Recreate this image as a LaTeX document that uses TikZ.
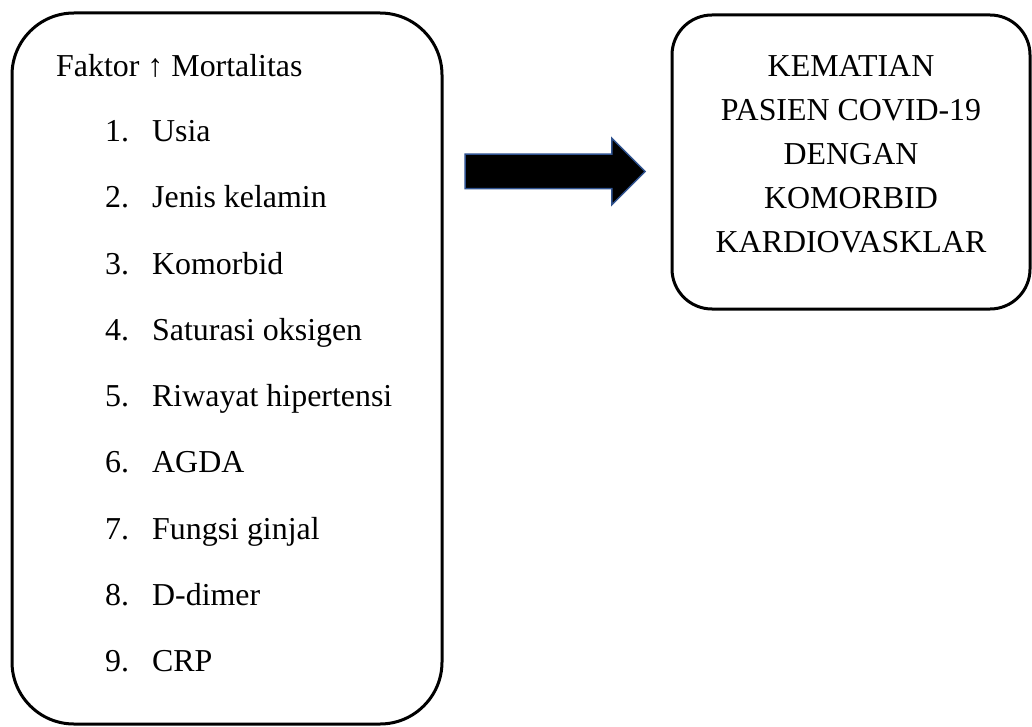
\documentclass[tikz,border=0pt]{standalone}
\usepackage{fontspec}
\setmainfont{Liberation Serif}
\usetikzlibrary{shapes}
\usetikzlibrary{shapes.arrows}
\definecolor{arrowblue}{RGB}{47,82,143}
\tikzset{
	textnode/.style = {
		inner sep=0pt,
		font=\fontsize{31.9}{43.8}\selectfont,
		anchor=base west
	},
	node_box/.style = {
		rectangle,
		draw=black,
		line width=3pt,
		inner sep=0pt
	},
	node_item/.style = {
		textnode
	},
	node_title/.style = {
		textnode,
		align=center,
		anchor=base
	},
	node_arrow/.style = {
		single arrow,
		draw=arrowblue,
		fill=black,
		line width=1.5pt,
		inner xsep=0pt,
		inner ysep=16.5pt,
		minimum height=180pt,
		single arrow head extend=16pt,
		single arrow head indent=0pt
	},
}
\newcommand{\itemno}[1]{\makebox[47pt][l]{#1}}

\begin{document}
\begin{tikzpicture}[x=1pt,y=-1pt]
\useasboundingbox (0,0) rectangle (1032,727);
% boxes
\node [node_box, rounded corners=62pt, minimum width=430pt, minimum height=711pt] (box_faktor) at (227,368.5) {};
\node [node_box, rounded corners=40pt, minimum width=358pt, minimum height=294pt] (box_kematian) at (851,162) {};
\node [node_arrow] (arrow_fk) at (546.5,171.5) {};
% left list
\node [textnode] (faktor) at (56,76.7) {Faktor ↑ Mortalitas};
\node [node_item] (item1) at (105,141.7) {\itemno{1.}Usia};
\node [node_item] (item2) at (105,207.95) {\itemno{2.}Jenis kelamin};
\node [node_item] (item3) at (105,274.2) {\itemno{3.}Komorbid};
\node [node_item] (item4) at (105,340.45) {\itemno{4.}Saturasi oksigen};
\node [node_item] (item5) at (105,406.7) {\itemno{5.}Riwayat hipertensi};
\node [node_item] (item6) at (105,472.95) {\itemno{6.}AGDA};
\node [node_item] (item7) at (105,539.2) {\itemno{7.}Fungsi ginjal};
\node [node_item] (item8) at (105,605.45) {\itemno{8.}D-dimer};
\node [node_item] (item9) at (105,671.7) {\itemno{9.}CRP};
% right text, anchored at the baseline of its last line
\node [node_title] (kematian) at (851,252) {KEMATIAN\\PASIEN COVID-19\\DENGAN\\KOMORBID\\KARDIOVASKLAR};
\end{tikzpicture}
\end{document}
